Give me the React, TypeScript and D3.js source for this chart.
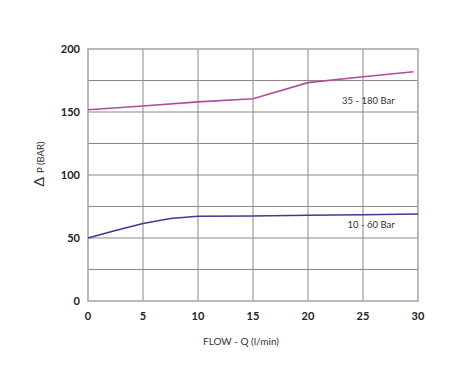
import React from 'react';
import * as d3 from 'd3';

const width = 469, height = 374;
const margin = { top: 49, right: 51, bottom: 73, left: 88 };

// x ticks and y ticks
const xTicks = [0, 5, 10, 15, 20, 25, 30];
const yTicks = [0, 50, 100, 150, 200];
const yGrid = [25, 75, 125, 175];

// the two pressure curves
const highFlow = [0, 5, 10, 15, 20, 25, 29.6];
const highP = [151.8, 154.8, 158, 160.5, 173.3, 178, 182];
const lowFlow = [0, 2.5, 5, 7.5, 10, 15, 20, 25, 30];
const lowP = [50, 56, 61.5, 65.5, 67.3, 67.5, 68, 68.5, 69];

const seriesLabels = ['35 - 180 Bar', '10 - 60 Bar'];

export default function App() {
    const x = d3.scaleLinear().domain([0, 30]).range([margin.left, width - margin.right]);
    const y = d3.scaleLinear().domain([0, 200]).range([height - margin.bottom, margin.top]);

    const line = d3.line<[number, number]>()
        .x(d => x(d[0]))
        .y(d => y(d[1]));

    const highPath = line(highFlow.map((f, i) => [f, highP[i]] as [number, number])) || '';
    const lowPath = line(lowFlow.map((f, i) => [f, lowP[i]] as [number, number])) || '';

    const font = 'Lato, "DejaVu Sans", sans-serif';

    return (
        <svg width={width} height={height} style={{ position: 'absolute', left: 0, top: 0 }}
            fontFamily={font}>
            <rect width={width} height={height} fill="#fff" />
            {/* inner grid */}
            {xTicks.slice(1, -1).map(t => (
                <line key={'gx' + t} x1={x(t)} x2={x(t)} y1={y(0)} y2={y(200)} stroke="#8a8a8a" strokeWidth={1} />
            ))}
            {yGrid.concat([50, 100, 150]).map(t => (
                <line key={'gy' + t} x1={x(0)} x2={x(30)} y1={y(t)} y2={y(t)} stroke="#8a8a8a" strokeWidth={1} />
            ))}
            {/* frame */}
            <rect x={x(0)} y={y(200)} width={x(30) - x(0)} height={y(0) - y(200)}
                fill="none" stroke="#a8a8a8" strokeWidth={1.6} />

            <path d={highPath} fill="none" stroke="#b04c9c" strokeWidth={1.6} />
            <path d={lowPath} fill="none" stroke="#3c3c94" strokeWidth={1.6} />

            {xTicks.map(t => (
                <text key={'tx' + t} x={x(t)} y={y(0) + 19} textAnchor="middle"
                    fontSize={11} fontWeight="bold" fill="#222">{t}</text>
            ))}
            {yTicks.map(t => (
                <text key={'ty' + t} x={x(0) - 8} y={y(t) + 4} textAnchor="end"
                    fontSize={11} fontWeight="bold" fill="#222">{t}</text>
            ))}

            <text x={x(23.1)} y={y(157) + 1} fontSize={9.5} fill="#333">{seriesLabels[0]}</text>
            <text x={x(23.6)} y={y(58)} fontSize={9.5} fill="#333">{seriesLabels[1]}</text>

            <text x={241} y={345} textAnchor="middle" fontSize={10} fill="#333">FLOW - Q (l/min)</text>
            <text transform={`translate(44,164) rotate(-90)`} textAnchor="middle"
                fontSize={9.5} fill="#333">
                <tspan fontSize={14}>Δ</tspan><tspan dx={4}>P (BAR)</tspan>
            </text>
        </svg>
    );
}
